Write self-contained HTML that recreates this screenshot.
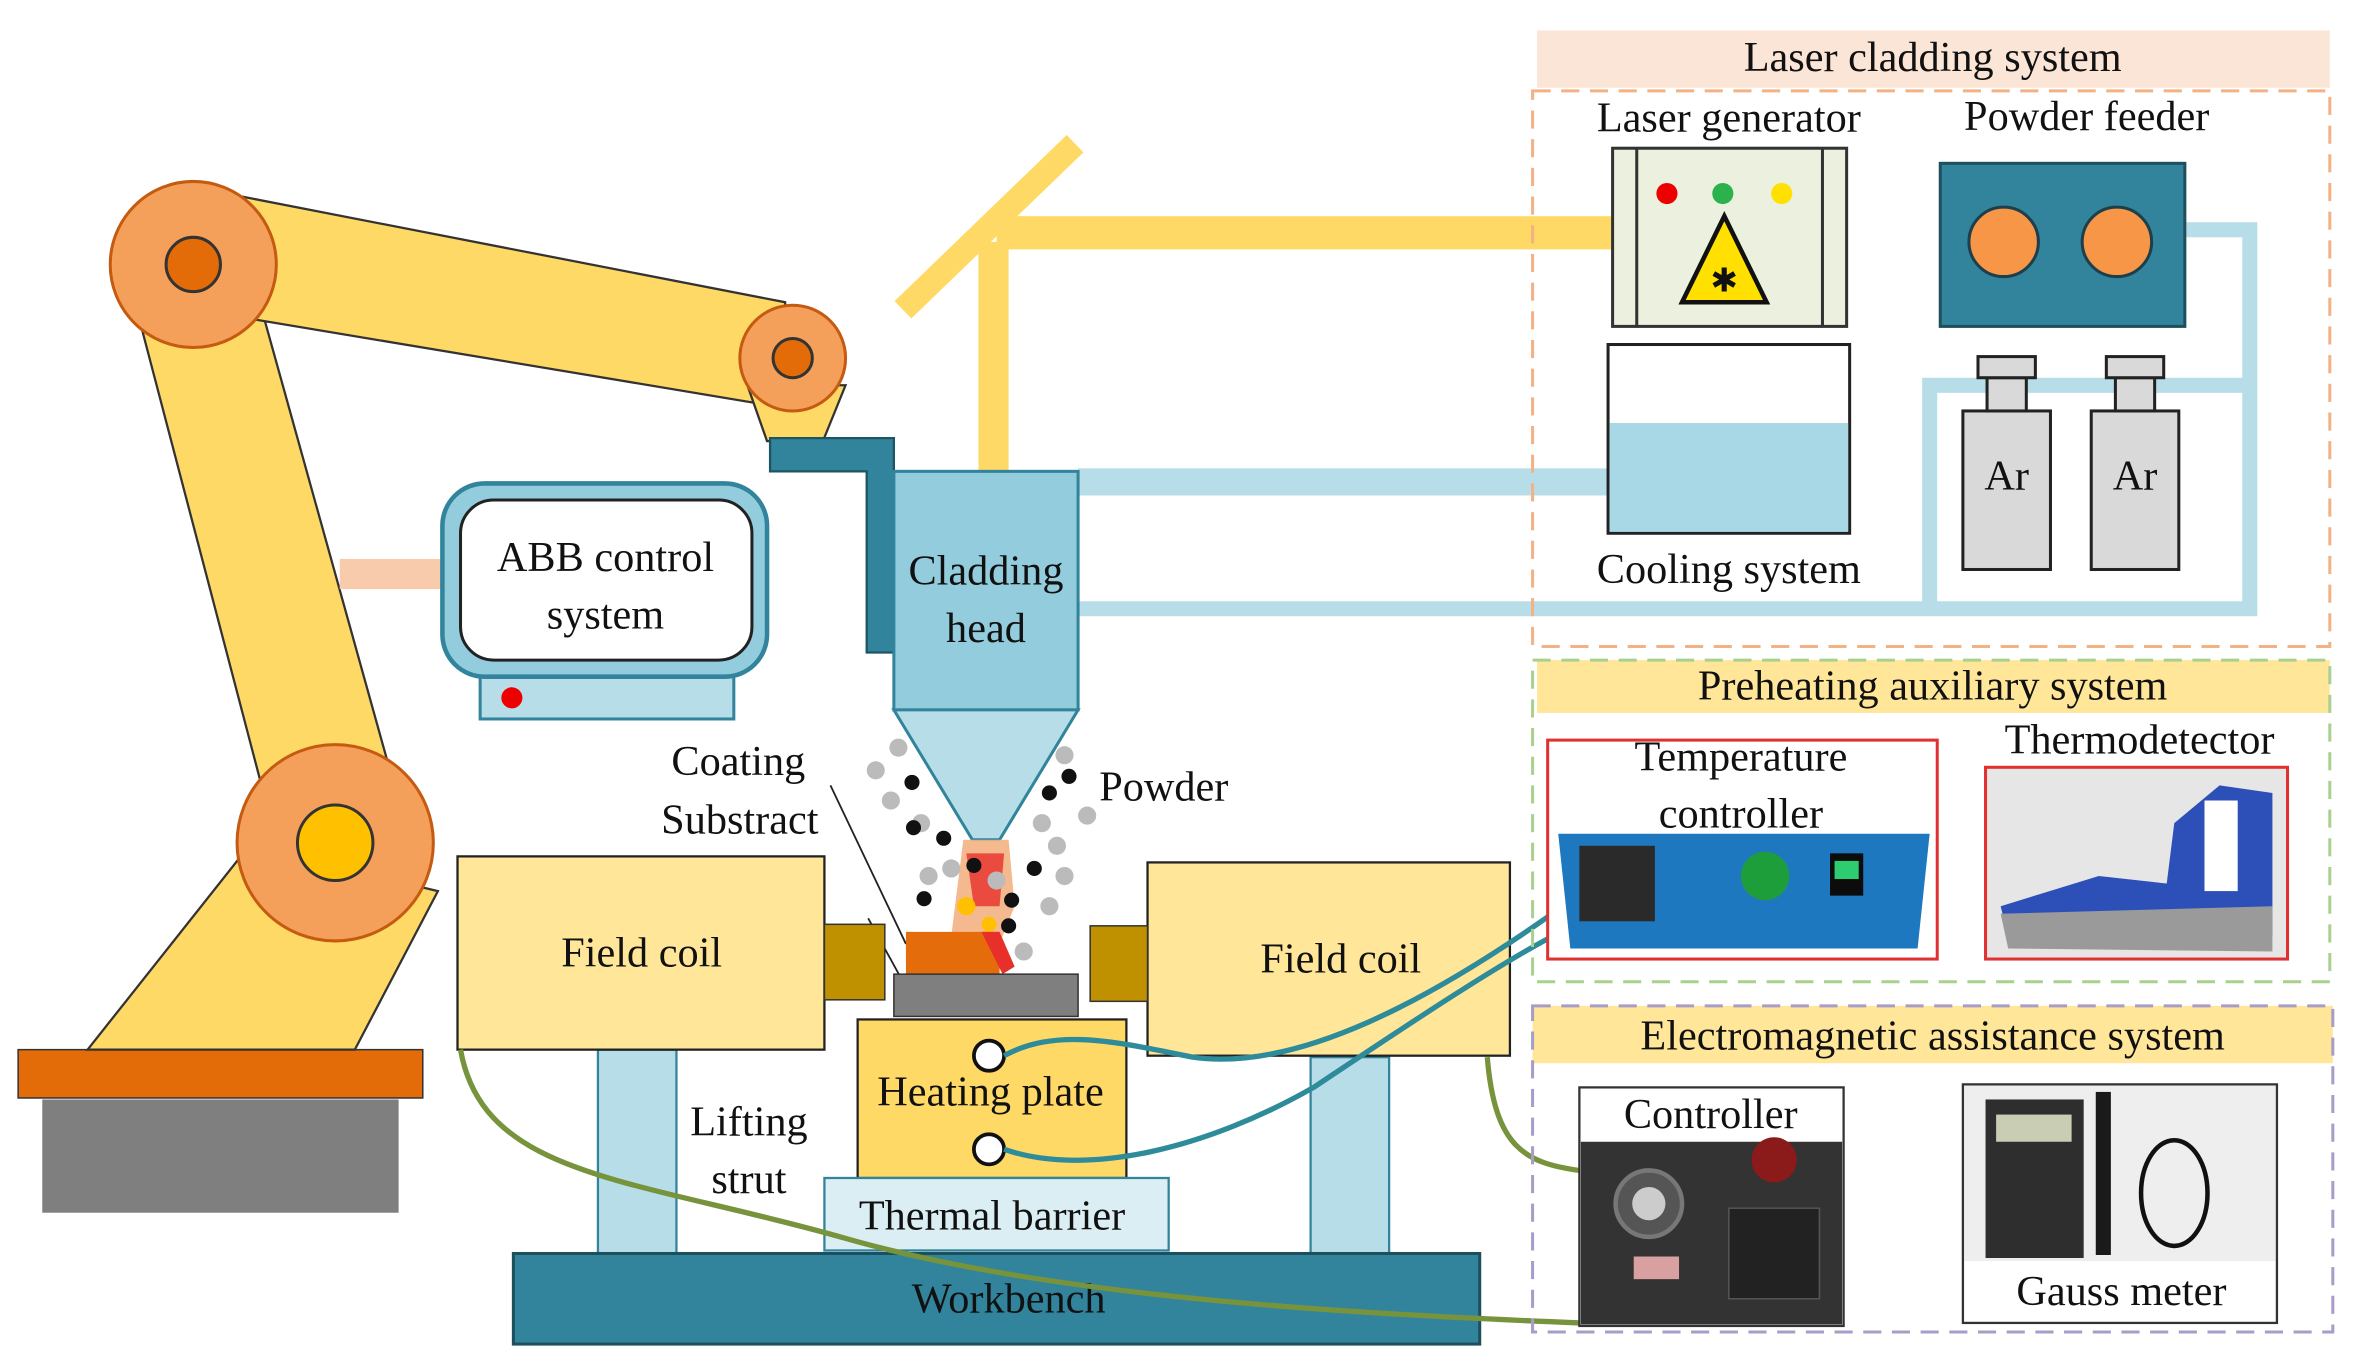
<!DOCTYPE html>
<html><head><meta charset="utf-8"><style>
html,body{margin:0;padding:0;background:#fff;}
svg{display:block}
text{font-family:"Liberation Serif",serif;fill:#111}
</style></head><body>
<svg width="2360" height="1370" viewBox="0 0 1563 907" xmlns="http://www.w3.org/2000/svg">
<!-- laser beam & mirror -->
<line x1="598" y1="205" x2="712" y2="95" stroke="#FFD966" stroke-width="16"/>
<rect x="648" y="160" width="20" height="152" fill="#FFD966"/>
<rect x="660" y="143" width="408" height="22" fill="#FFD966"/>
<!-- blue pipes -->
<rect x="714" y="310" width="352" height="18" fill="#B7DEE8"/>
<path d="M714 403 H1490 V152 H1448" fill="none" stroke="#B7DEE8" stroke-width="10"/>
<path d="M1490 255 H1278 V403" fill="none" stroke="#B7DEE8" stroke-width="10"/>
<!-- robot -->
<rect x="28" y="728" width="236" height="75" fill="#7F7F7F"/>
<rect x="12" y="695" width="268" height="32" fill="#E36C09" stroke="#333" stroke-width="1"/>
<polygon points="58,695 165,560 290,590 235,695" fill="#FFD966" stroke="#333" stroke-width="1.5"/>
<polygon points="88,195 165,175 268,545 185,565" fill="#FFD966" stroke="#333" stroke-width="1.5"/>
<polygon points="160,130 520,200 520,270 160,210" fill="#FFD966" stroke="#333" stroke-width="1.5"/>
<polygon points="495,255 560,255 545,292 508,292" fill="#FFD966" stroke="#333" stroke-width="1.5"/>
<circle cx="128" cy="175" r="55" fill="#F4A05A" stroke="#C55A11" stroke-width="2"/>
<circle cx="128" cy="175" r="18" fill="#E36C09" stroke="#333" stroke-width="2"/>
<circle cx="525" cy="237" r="35" fill="#F4A05A" stroke="#C55A11" stroke-width="2"/>
<circle cx="525" cy="237" r="13" fill="#E36C09" stroke="#333" stroke-width="2"/>
<circle cx="222" cy="558" r="65" fill="#F4A05A" stroke="#C55A11" stroke-width="2"/>
<circle cx="222" cy="558" r="25" fill="#FFC000" stroke="#333" stroke-width="2"/>
<polygon points="510,290 592,290 592,432 574,432 574,312 510,312" fill="#31849B" stroke="#1d5563" stroke-width="1.5"/>
<!-- ABB -->
<rect x="225" y="370" width="68" height="20" fill="#F8CBAD"/>
<rect x="318" y="448" width="168" height="28" fill="#B7DEE8" stroke="#31849B" stroke-width="2"/>
<circle cx="339" cy="462" r="7" fill="#E00"/>
<rect x="293" y="320" width="215" height="128" rx="28" fill="#93CDDD" stroke="#31849B" stroke-width="3"/>
<rect x="305" y="331" width="193" height="106" rx="22" fill="#fff" stroke="#222" stroke-width="2"/>
<text x="401" y="378" font-size="28" text-anchor="middle">ABB control</text>
<text x="401" y="416" font-size="28" text-anchor="middle">system</text>
<!-- cladding head -->
<rect x="592" y="312" width="122" height="158" fill="#93CDDD" stroke="#31849B" stroke-width="2"/>
<polygon points="592,470 714,470 662,556 644,556" fill="#B7DEE8" stroke="#31849B" stroke-width="2"/>
<text x="653" y="387" font-size="28" text-anchor="middle">Cladding</text>
<text x="653" y="425" font-size="28" text-anchor="middle">head</text>
<!-- melt pool -->
<polygon points="638,556 668,556 672,600 660,630 630,620" fill="#F4B183" opacity="0.9"/>
<polygon points="640,565 665,565 662,600 645,600" fill="#E8302A" opacity="0.8"/>
<line x1="550" y1="520" x2="600" y2="625" stroke="#222" stroke-width="1.2"/>
<line x1="575" y1="608" x2="598" y2="650" stroke="#222" stroke-width="1.2"/>
<g fill="#bbb">
<circle cx="580" cy="510" r="6"/><circle cx="595" cy="495" r="6"/><circle cx="590" cy="530" r="6"/><circle cx="610" cy="545" r="6"/><circle cx="615" cy="580" r="6"/><circle cx="630" cy="575" r="6"/><circle cx="705" cy="500" r="6"/><circle cx="720" cy="540" r="6"/><circle cx="700" cy="560" r="6"/><circle cx="705" cy="580" r="6"/><circle cx="695" cy="600" r="6"/><circle cx="678" cy="630" r="6"/><circle cx="660" cy="583" r="6"/><circle cx="690" cy="545" r="6"/>
</g>
<g fill="#111">
<circle cx="604" cy="518" r="5"/><circle cx="605" cy="548" r="5"/><circle cx="625" cy="555" r="5"/><circle cx="708" cy="514" r="5"/><circle cx="695" cy="525" r="5"/><circle cx="685" cy="575" r="5"/><circle cx="645" cy="573" r="5"/><circle cx="670" cy="596" r="5"/><circle cx="668" cy="613" r="5"/><circle cx="612" cy="595" r="5"/>
</g>
<circle cx="640" cy="600" r="6" fill="#FFC000"/><circle cx="655" cy="612" r="5" fill="#FFC000"/>
<text x="489" y="513" font-size="28" text-anchor="middle">Coating</text>
<text x="490" y="552" font-size="28" text-anchor="middle">Substract</text>
<text x="728" y="530" font-size="28">Powder</text>
<!-- struts -->
<rect x="396" y="695" width="52" height="135" fill="#B7DEE8" stroke="#31849B" stroke-width="1.5"/>
<rect x="868" y="700" width="52" height="130" fill="#B7DEE8" stroke="#31849B" stroke-width="1.5"/>
<text x="496" y="752" font-size="28" text-anchor="middle">Lifting</text>
<text x="496" y="790" font-size="28" text-anchor="middle">strut</text>
<!-- coils -->
<rect x="303" y="567" width="243" height="128" fill="#FFE699" stroke="#222" stroke-width="1.5"/>
<rect x="546" y="612" width="40" height="50" fill="#BF9000" stroke="#333"/>
<text x="425" y="640" font-size="28" text-anchor="middle">Field coil</text>
<rect x="760" y="571" width="240" height="128" fill="#FFE699" stroke="#222" stroke-width="1.5"/>
<rect x="722" y="613" width="38" height="50" fill="#BF9000" stroke="#333"/>
<text x="888" y="644" font-size="28" text-anchor="middle">Field coil</text>
<rect x="600" y="617" width="62" height="28" fill="#E46C0A"/>
<polygon points="650,617 662,617 672,640 664,645" fill="#E8302A"/>
<rect x="592" y="645" width="122" height="28" fill="#7F7F7F" stroke="#333"/>
<rect x="568" y="675" width="178" height="105" fill="#FFD966" stroke="#222" stroke-width="1.5"/>
<text x="656" y="732" font-size="28" text-anchor="middle">Heating plate</text>
<circle cx="655" cy="699" r="10" fill="#fff" stroke="#111" stroke-width="2.5"/>
<circle cx="655" cy="761" r="10" fill="#fff" stroke="#111" stroke-width="2.5"/>
<rect x="546" y="780" width="228" height="48" fill="#DAEEF3" stroke="#31849B" stroke-width="1.5"/>
<text x="657" y="814" font-size="28" text-anchor="middle">Thermal barrier</text>
<rect x="340" y="830" width="640" height="60" fill="#31849B" stroke="#1d4f5c" stroke-width="2"/>
<text x="668" y="869" font-size="28" text-anchor="middle">Workbench</text>
<!-- wires -->
<path d="M665 699 C700 680,740 690,790 700 C860 710,950 660,1028 605" fill="none" stroke="#2E8B9A" stroke-width="3.5"/>
<path d="M665 761 C720 780,800 760,870 720 C930 680,990 640,1028 620" fill="none" stroke="#2E8B9A" stroke-width="3.5"/>
<path d="M305 695 C320 780,420 780,560 820 C700 860,900 870,1046 876" fill="none" stroke="#77933C" stroke-width="3.5"/>
<path d="M985 700 C990 760,1010 770,1046 775" fill="none" stroke="#77933C" stroke-width="3.5"/>
<!-- Laser cladding system -->
<rect x="1018" y="20" width="525" height="38" fill="#FBE5D6"/>
<text x="1280" y="47" font-size="28" text-anchor="middle">Laser cladding system</text>
<rect x="1015" y="60" width="528" height="368" fill="none" stroke="#F4B183" stroke-width="2" stroke-dasharray="12,7"/>
<text x="1145" y="87" font-size="28" text-anchor="middle">Laser generator</text>
<text x="1382" y="86" font-size="28" text-anchor="middle">Powder feeder</text>
<rect x="1068" y="98" width="155" height="118" fill="#EBF1DE" stroke="#333" stroke-width="2"/>
<line x1="1084" y1="98" x2="1084" y2="216" stroke="#333" stroke-width="2"/>
<line x1="1207" y1="98" x2="1207" y2="216" stroke="#333" stroke-width="2"/>
<circle cx="1104" cy="128" r="7" fill="#E00"/><circle cx="1141" cy="128" r="7" fill="#2CB24B"/><circle cx="1180" cy="128" r="7" fill="#FFE000"/>
<polygon points="1142,143 1170,200 1114,200" fill="#FFE000" stroke="#111" stroke-width="3"/>
<text x="1142" y="193" font-size="22" text-anchor="middle" font-family="DejaVu Sans">✱</text>
<rect x="1065" y="228" width="160" height="125" fill="#fff" stroke="#222" stroke-width="2"/>
<rect x="1066" y="280" width="158" height="72" fill="#A8D8E6"/>
<text x="1145" y="386" font-size="28" text-anchor="middle">Cooling system</text>
<rect x="1285" y="108" width="162" height="108" fill="#31849B" stroke="#1d4f5c" stroke-width="2"/>
<circle cx="1327" cy="160" r="23" fill="#F79646" stroke="#1d3f4c" stroke-width="2"/>
<circle cx="1402" cy="160" r="23" fill="#F79646" stroke="#1d3f4c" stroke-width="2"/>
<g fill="#D9D9D9" stroke="#222" stroke-width="2">
<rect x="1300" y="272" width="58" height="105"/><rect x="1316" y="250" width="26" height="22"/><rect x="1310" y="236" width="38" height="14"/>
<rect x="1385" y="272" width="58" height="105"/><rect x="1401" y="250" width="26" height="22"/><rect x="1395" y="236" width="38" height="14"/>
</g>
<text x="1329" y="324" font-size="28" text-anchor="middle">Ar</text>
<text x="1414" y="324" font-size="28" text-anchor="middle">Ar</text>
<!-- Preheating -->
<rect x="1018" y="437" width="525" height="35" fill="#FFE699"/>
<rect x="1015" y="437" width="528" height="213" fill="none" stroke="#A9D18E" stroke-width="2" stroke-dasharray="12,7"/>
<text x="1280" y="463" font-size="28" text-anchor="middle">Preheating auxiliary system</text>
<rect x="1025" y="490" width="258" height="145" fill="#fff" stroke="#E03030" stroke-width="2"/>
<polygon points="1032,552 1278,552 1270,628 1040,628" fill="#1E78C0"/>
<rect x="1046" y="560" width="50" height="50" fill="#2a2a2a"/>
<circle cx="1169" cy="580" r="16" fill="#1E9E3A"/>
<rect x="1212" y="565" width="22" height="28" fill="#0c0c0c"/><rect x="1215" y="570" width="16" height="12" fill="#2ECC71"/>
<text x="1153" y="510" font-size="28" text-anchor="middle">Temperature</text>
<text x="1153" y="548" font-size="28" text-anchor="middle">controller</text>
<text x="1417" y="499" font-size="28" text-anchor="middle">Thermodetector</text>
<rect x="1315" y="508" width="200" height="127" fill="#E6E6E6" stroke="#E03030" stroke-width="2"/>
<polygon points="1325,600 1330,620 1505,620 1505,525 1470,520 1440,545 1435,585 1390,580" fill="#2D4FB8"/>
<polygon points="1325,605 1505,600 1505,630 1330,628" fill="#9A9A9A"/>
<rect x="1460" y="530" width="22" height="60" fill="#fff"/>
<!-- Electromagnetic -->
<rect x="1015" y="666" width="530" height="38" fill="#FFE699"/>
<rect x="1015" y="666" width="530" height="216" fill="none" stroke="#A89CC8" stroke-width="2" stroke-dasharray="12,7"/>
<text x="1280" y="695" font-size="28" text-anchor="middle">Electromagnetic assistance system</text>
<rect x="1046" y="720" width="175" height="158" fill="#fff" stroke="#333" stroke-width="1.5"/>
<rect x="1047" y="756" width="173" height="121" fill="#333"/>
<circle cx="1092" cy="797" r="22" fill="#555" stroke="#777" stroke-width="3"/><circle cx="1092" cy="797" r="11" fill="#ccc"/>
<circle cx="1175" cy="768" r="15" fill="#8B1A1A"/>
<rect x="1145" y="800" width="60" height="60" fill="#222" stroke="#555"/>
<rect x="1082" y="832" width="30" height="15" fill="#D8A0A0"/>
<text x="1133" y="747" font-size="28" text-anchor="middle">Controller</text>
<rect x="1300" y="718" width="208" height="158" fill="#EEE" stroke="#333" stroke-width="1.5"/>
<rect x="1315" y="728" width="65" height="105" fill="#2E2E2E"/>
<rect x="1322" y="738" width="50" height="18" fill="#C8CDB4"/>
<rect x="1388" y="723" width="10" height="108" fill="#1a1a1a"/>
<ellipse cx="1440" cy="790" rx="22" ry="35" fill="none" stroke="#111" stroke-width="3"/>
<rect x="1301" y="835" width="206" height="40" fill="#fff"/>
<text x="1405" y="864" font-size="28" text-anchor="middle">Gauss meter</text>
</svg>
</body></html>
